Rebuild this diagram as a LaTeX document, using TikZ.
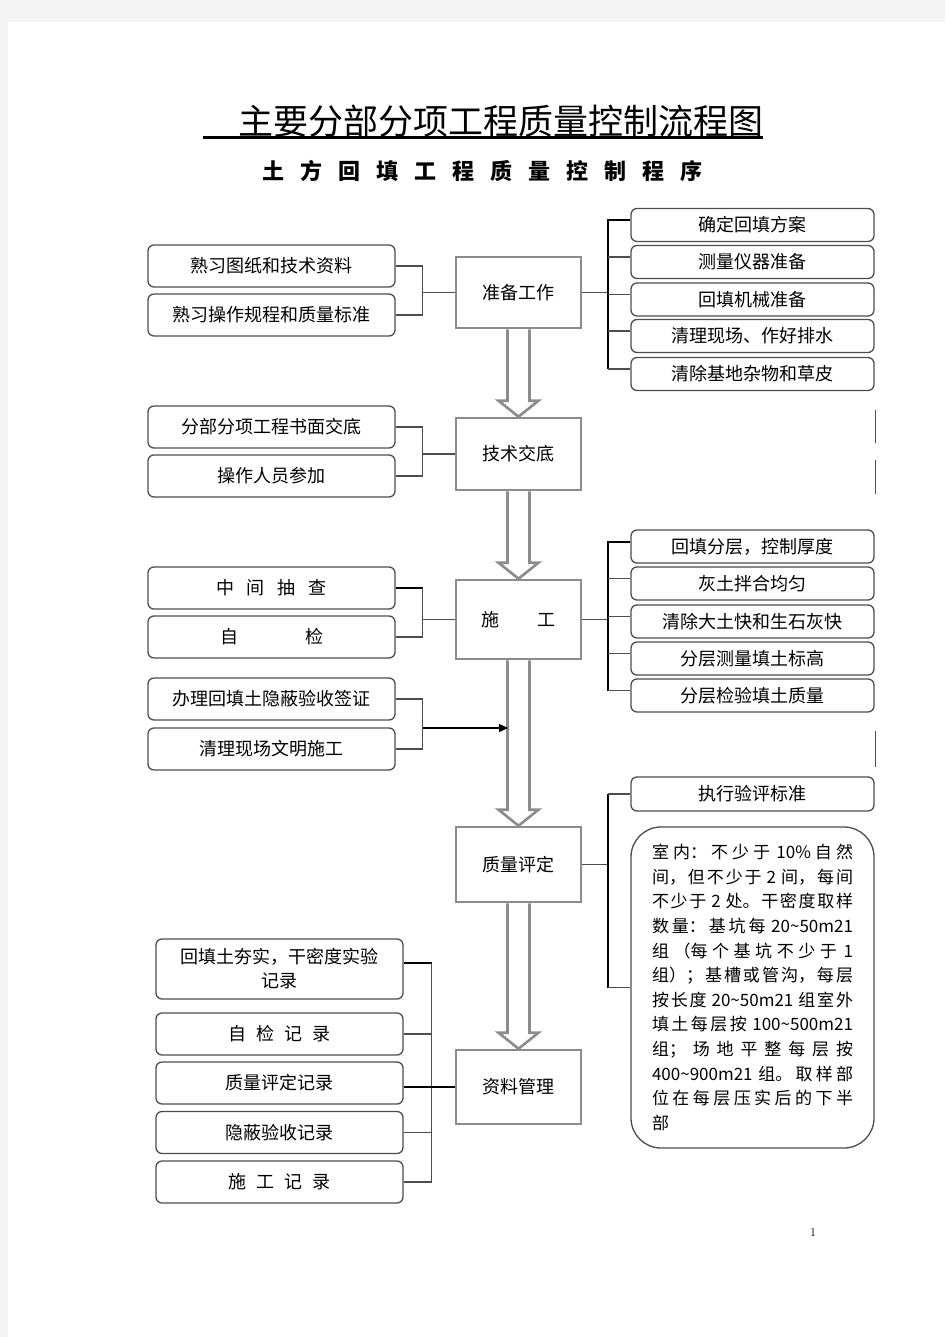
\documentclass[tikz,border=0pt]{standalone}
\usepackage{fontspec}
\usetikzlibrary{arrows.meta,calc}
\newfontfamily\cjk{Noto Sans CJK SC}
\XeTeXlinebreaklocale "zh"
\XeTeXlinebreakskip=0pt plus 3pt
\definecolor{pagebg}{HTML}{F4F4F4}
\definecolor{midgrey}{HTML}{8C8C8C}
\definecolor{edgegrey}{HTML}{4D4D4D}
\newcommand\sgap{\hspace{16pt}}
\newcommand\bigarrow[2]{%
  \draw[hollow] let \p1=(#1.south), \p2=(#2.north) in
    (\x1-11pt,\y1) -- (\x1-11pt,\y2+16pt) -- (\x1-20pt,\y2+16pt) -- (\x2,\y2)
    -- (\x1+20pt,\y2+16pt) -- (\x1+11pt,\y2+16pt) -- (\x1+11pt,\y1);}

\begin{document}
\begin{tikzpicture}[x=1pt,y=-1pt]
\tikzstyle{every node}+=[font=\cjk\fontsize{18pt}{24pt}\selectfont]
\tikzstyle{sidebox}=[draw=edgegrey,line width=1.3pt,rounded corners=6pt,minimum width=247pt,minimum height=42pt,inner sep=2pt,fill=white]
\tikzstyle{rightbox}=[sidebox,minimum width=243pt,minimum height=33pt]
\tikzstyle{midbox}=[draw=midgrey,line width=2.6pt,minimum width=125pt,inner sep=2pt,fill=white]
\tikzstyle{brk}=[draw=edgegrey,line width=1.3pt]
\tikzstyle{heavy}=[draw=black,line width=2pt]
\tikzstyle{hollow}=[draw=midgrey,line width=2.6pt]
\useasboundingbox (0,0) rectangle (945,1337);
\fill[pagebg] (0,0) rectangle (945,1337);
\fill[white] (8,22) rectangle (945,1337);

\node[font=\cjk\fontsize{35pt}{38pt}\selectfont,inner sep=0pt] (ttl) at (500.5,121) {主要分部分项工程质量控制流程图};
\draw[line width=2.2pt] ([xshift=-35pt]ttl.south west) -- (ttl.south east);
\node[font=\cjk\bfseries\fontsize{22pt}{26pt}\selectfont] (sub) at (482.5,171)
  {土\sgap 方\sgap 回\sgap 填\sgap 工\sgap 程\sgap 质\sgap 量\sgap 控\sgap 制\sgap 程\sgap 序};

\node[midbox,minimum height=71pt] (zb) at (518.5,292.5) {准备工作};
\node[midbox,minimum height=72pt] (jd) at (518.5,454) {技术交底};
\node[midbox,minimum height=79pt] (sg) at (518.5,619.5) {施\hspace{38pt}工};
\node[midbox,minimum height=75pt] (zp) at (518.5,864.5) {质量评定};
\node[midbox,minimum height=74pt] (zl) at (518.5,1087) {资料管理};

\node[sidebox] (l1a) at (271.5,266) {熟习图纸和技术资料};
\node[sidebox] (l1b) at (271.5,315) {熟习操作规程和质量标准};
\node[rightbox] (r1a) at (752.5,225) {确定回填方案};
\node[rightbox] (r1b) at (752.5,262) {测量仪器准备};
\node[rightbox] (r1c) at (752.5,299.5) {回填机械准备};
\node[rightbox] (r1d) at (752.5,336) {清理现场、作好排水};
\node[rightbox] (r1e) at (752.5,374) {清除基地杂物和草皮};

\node[sidebox] (l2a) at (271.5,427) {分部分项工程书面交底};
\node[sidebox] (l2b) at (271.5,476) {操作人员参加};

\node[sidebox] (l3a) at (271.5,588) {中\hspace{13pt}间\hspace{13pt}抽\hspace{13pt}查};
\node[sidebox] (l3b) at (271.5,637) {自\hspace{67pt}检};
\node[sidebox] (l3c) at (271.5,699) {办理回填土隐蔽验收签证};
\node[sidebox] (l3d) at (271.5,749) {清理现场文明施工};
\node[rightbox] (r3a) at (752.5,546.5) {回填分层，控制厚度};
\node[rightbox] (r3b) at (752.5,583.5) {灰土拌合均匀};
\node[rightbox] (r3c) at (752.5,621.5) {清除大土快和生石灰快};
\node[rightbox] (r3d) at (752.5,658.5) {分层测量填土标高};
\node[rightbox] (r3e) at (752.5,695.5) {分层检验填土质量};

\node[rightbox,minimum height=34pt] (r4a) at (752.5,794) {执行验评标准};
\node[sidebox,rounded corners=30pt,minimum width=243pt,minimum height=321pt,text width=201pt,inner xsep=21pt,align=justify,font=\cjk\fontsize{17pt}{24.6pt}\selectfont] (r4b) at (752.5,987.5)
  {室内：不少于 10\%自然\linebreak
   间，但不少于 2 间，每间\linebreak
   不少于 2 处。干密度取样\linebreak
   数量：基坑每 20\textasciitilde50m21\linebreak
   组（每个基坑不少于 1\linebreak
   组）；基槽或管沟，每层\linebreak
   按长度 20\textasciitilde50m21 组室外\linebreak
   填土每层按 100\textasciitilde500m21\linebreak
   组；场地平整每层按\linebreak
   400\textasciitilde900m21 组。取样部\linebreak
   位在每层压实后的下半\linebreak
   部};

\node[sidebox,minimum height=60pt,align=center] (b5a) at (279.5,969) {回填土夯实，干密度实验\\记录};
\node[sidebox] (b5b) at (279.5,1034) {自\hspace{10pt}检\hspace{10pt}记\hspace{10pt}录};
\node[sidebox] (b5c) at (279.5,1083) {质量评定记录};
\node[sidebox] (b5d) at (279.5,1132.5) {隐蔽验收记录};
\node[sidebox] (b5e) at (279.5,1182) {施\hspace{10pt}工\hspace{10pt}记\hspace{10pt}录};

\node[font=\fontsize{12pt}{14pt}\selectfont] (pg) at (813,1232) {1};

\bigarrow{zb}{jd}
\bigarrow{jd}{sg}
\bigarrow{sg}{zp}
\bigarrow{zp}{zl}

\draw[brk] (l1a.east) -- ++(27,0) coordinate (j1) |- (l1b.east);
\draw[brk] (zb.west) -- (j1 |- zb.west);
\draw[brk] (zb.east) -- ++(26,0) coordinate (k1);
\foreach \n in {r1a,r1b,r1c,r1d,r1e} \coordinate (t\n) at ([yshift=5pt]\n.west);
\draw[heavy] (tr1a) -- (tr1a -| k1) -- (tr1e -| k1);
\foreach \n in {r1b,r1c,r1d,r1e} \draw[brk] (t\n -| k1) -- (t\n);

\draw[brk] (l2a.east) -- ++(27,0) coordinate (j2) |- (l2b.east);
\draw[brk] (jd.west) -- (j2 |- jd.west);

\draw[heavy] (l3a.east) -- ++(27,0) coordinate (j3);
\draw[brk] (j3) |- (l3b.east);
\draw[brk] (sg.west) -- (j3 |- sg.west);
\draw[brk] (sg.east) -- ++(26,0) coordinate (k3);
\foreach \n in {r3a,r3b,r3c,r3d,r3e} \coordinate (t\n) at ([yshift=5pt]\n.west);
\draw[heavy] (tr3a) -- (tr3a -| k3) -- (tr3e -| k3);
\foreach \n in {r3b,r3c,r3d,r3e} \draw[brk] (t\n -| k3) -- (t\n);
\draw[brk] (l3c.east) -- ++(27,0) coordinate (j4) |- (l3d.east);
\coordinate (tipA) at (508,728);
\draw[brk,draw=black,-{Triangle[length=9pt,width=8pt]}] (j4 |- tipA) -- (tipA);

\draw[brk] (zp.east) -- ++(26,0) coordinate (k4);
\draw[heavy] (k4 |- r4a.west) -- (k4 |- r4b.west);
\draw[brk] (k4 |- r4a.west) -- (r4a.west);
\draw[brk] (k4 |- r4b.west) -- (r4b.west);

\draw[heavy] ([yshift=6pt]b5a.east) -- ++(28,0) coordinate (j5);
\draw[brk] (j5) |- (b5e.east);
\draw[brk] (b5b.east) -- (b5b.east -| j5);
\draw[brk] (b5d.east) -- (b5d.east -| j5);
\draw[heavy] (b5c.east |- zl.west) -- (zl.west);

\draw[brk,line width=1pt] (875,410) -- (875,443);
\draw[brk,line width=1pt] (875,460) -- (875,494);
\draw[brk,line width=1pt] (875,731) -- (875,767);
\end{tikzpicture}
\end{document}
